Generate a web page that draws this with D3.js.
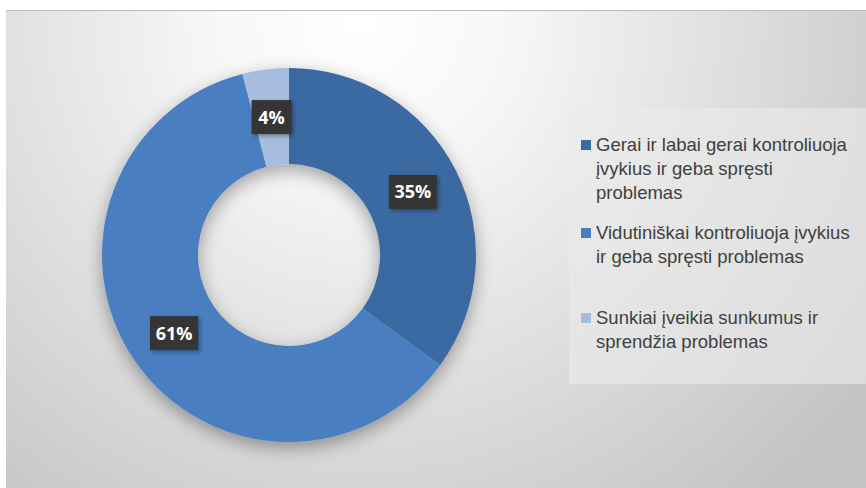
<!DOCTYPE html>
<html>
<head>
  <meta charset="utf-8">
  <title>Donut chart</title>
  <script src="https://d3js.org/d3.v7.min.js"></script>
  <style>
    body { margin: 0; background: #fff; }
    svg { display: block; }
  </style>
</head>
<body>
<svg class="chart"></svg>
<script>
// Data
const categories = [
  "Gerai ir labai gerai kontroliuoja įvykius ir geba spręsti problemas",
  "Vidutiniškai kontroliuoja įvykius ir geba spręsti problemas",
  "Sunkiai įveikia sunkumus ir sprendžia problemas"
];
const values = [35, 61, 4];
const legendLines = [
  ["Gerai ir labai gerai kontroliuoja", "įvykius ir geba spręsti", "problemas"],
  ["Vidutiniškai kontroliuoja įvykius", "ir geba spręsti problemas"],
  ["Sunkiai įveikia sunkumus ir", "sprendžia problemas"]
];
const colors = ["#3b6aa3", "#4a7ec0", "#a7bde0"];

const width = 866, height = 488;
const svg = d3.select(".chart").attr("width", width).attr("height", height);

const defs = svg.append("defs");

// background gradient of the chart area
const bg = defs.append("radialGradient").attr("id", "bg")
  .attr("gradientUnits", "userSpaceOnUse")
  .attr("cx", 360).attr("cy", 20).attr("r", 620);
bg.append("stop").attr("offset", "0%").attr("stop-color", "#ffffff");
bg.append("stop").attr("offset", "25%").attr("stop-color", "#f6f6f6");
bg.append("stop").attr("offset", "100%").attr("stop-color", "#c4c4c4");

// soft shadow under the donut
const sh = defs.append("filter").attr("id", "shadow")
  .attr("x", "-20%").attr("y", "-20%").attr("width", "140%").attr("height", "140%");
sh.append("feGaussianBlur").attr("in", "SourceAlpha").attr("stdDeviation", 9);
sh.append("feOffset").attr("dx", 0).attr("dy", 6).attr("result", "b");
sh.append("feComponentTransfer").append("feFuncA").attr("type", "linear").attr("slope", 0.35);
const m = sh.append("feMerge");
m.append("feMergeNode");
m.append("feMergeNode").attr("in", "SourceGraphic");

const lsh = defs.append("filter").attr("id", "lshadow")
  .attr("x", "-30%").attr("y", "-30%").attr("width", "160%").attr("height", "160%");
lsh.append("feDropShadow").attr("dx", 2).attr("dy", 2).attr("stdDeviation", 2)
  .attr("flood-color", "#000").attr("flood-opacity", 0.35);

// chart area
svg.append("rect")
  .attr("x", 6).attr("y", 10)
  .attr("width", width - 6).attr("height", height - 10)
  .attr("fill", "url(#bg)");
svg.append("line")
  .attr("x1", 6).attr("x2", width).attr("y1", 10.5).attr("y2", 10.5)
  .attr("stroke", "#bdbdbd");

// legend box
svg.append("rect")
  .attr("x", 569).attr("y", 108)
  .attr("width", width - 569).attr("height", 276)
  .attr("fill", "#ebebeb").attr("opacity", 0.6);

// donut
const cx = 289, cy = 255, outerR = 187, innerR = 91;
const g = svg.append("g").attr("transform", `translate(${cx},${cy})`);

const pie = d3.pie().sort(null).value(d => d);
const arcs = pie(values);
const arc = d3.arc().innerRadius(innerR).outerRadius(outerR);
const labelArc = d3.arc().innerRadius(139).outerRadius(139);

g.append("g").attr("filter", "url(#shadow)")
  .selectAll("path")
  .data(arcs)
  .join("path")
    .attr("d", arc)
    .attr("fill", (d, i) => colors[i]);

// labels
const labels = g.selectAll(".lbl")
  .data(arcs)
  .join("g")
    .attr("class", "lbl")
    .attr("transform", d => `translate(${labelArc.centroid(d)})`);

labels.append("rect")
  .attr("x", d => d.data < 10 ? -20 : -24)
  .attr("y", -17)
  .attr("width", d => d.data < 10 ? 40 : 48)
  .attr("height", 34)
  .attr("fill", "#343434")
  .attr("filter", "url(#lshadow)");

labels.append("text")
  .attr("text-anchor", "middle")
  .attr("dy", "0.36em")
  .style("font-family", "'Open Sans', sans-serif")
  .style("font-weight", "bold")
  .style("font-size", "18px")
  .attr("fill", "#ffffff")
  .text(d => d.data + "%");

// legend
const itemY = [145, 233, 318];
const legend = svg.append("g");
legendLines.forEach((lines, i) => {
  const item = legend.append("g").attr("transform", `translate(0,${itemY[i]})`);
  item.append("rect")
    .attr("x", 581).attr("y", -5)
    .attr("width", 10).attr("height", 10)
    .attr("fill", colors[i]);
  item.append("text")
    .attr("x", 596)
    .style("font-family", "'Liberation Sans', Arial, sans-serif")
    .style("font-size", "18.5px")
    .attr("fill", "#404040")
    .selectAll("tspan")
    .data(lines)
    .join("tspan")
      .attr("x", 596)
      .attr("y", (d, j) => j * 24)
      .attr("dy", "0.35em")
      .text(d => d);
});
</script>
</body>
</html>
